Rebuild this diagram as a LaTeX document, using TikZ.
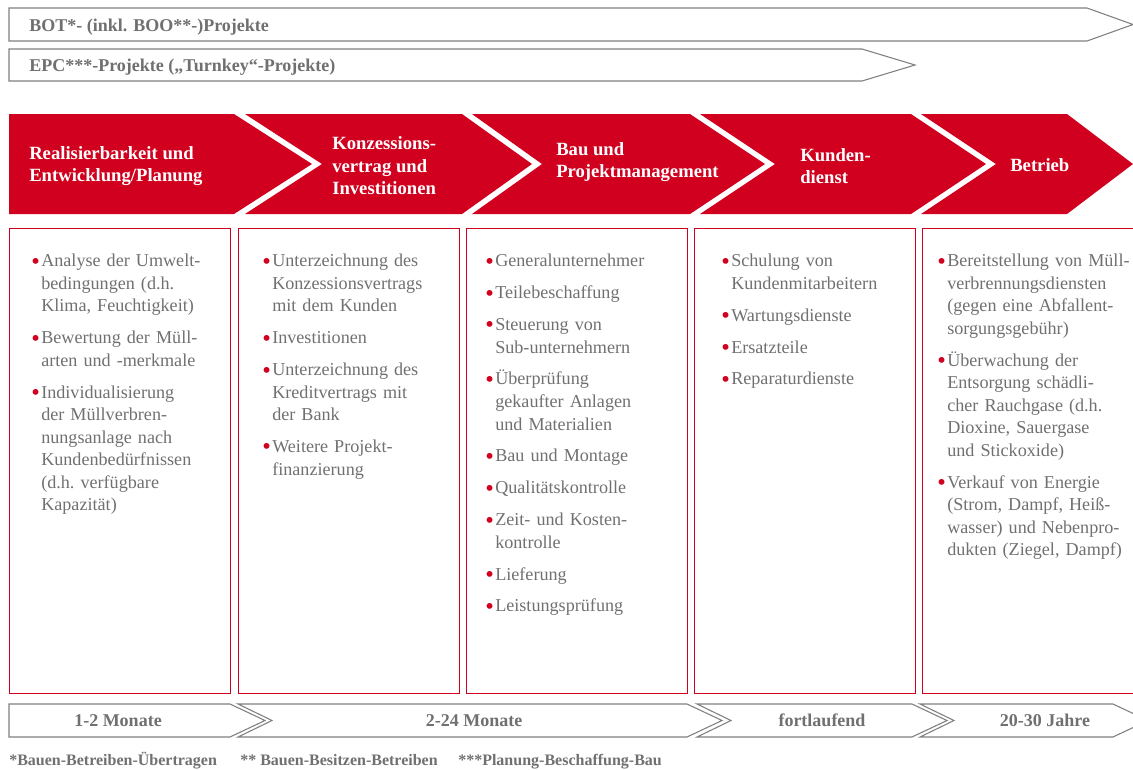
\documentclass[tikz,border=0pt]{standalone}
\usepackage{fontspec}
\setmainfont{Liberation Serif}
\definecolor{dbred}{RGB}{208,0,30}
\definecolor{txtgray}{RGB}{112,112,112}
\definecolor{linegray}{RGB}{128,128,128}
\newcommand\itm{\leavevmode\llap{\textcolor{dbred}{\raisebox{-1.8pt}{\scalebox{1.35}{\textbullet}}}\hspace{1pt}}}
\tikzset{
	graybar/.style={draw=linegray, line width=0.8pt, fill=white},
	bartext/.style={text=txtgray, font=\bfseries\fontsize{13.5}{16}\selectfont, inner sep=0},
	phasetext/.style={text=white, font=\bfseries\fontsize{14}{16.9}\selectfont, align=left, anchor=west, inner sep=0},
	listbox/.style={draw=dbred, line width=0.75pt},
	listtext/.style={text=txtgray, font=\fontsize{13.6}{16.9}\selectfont, text width=156pt, align=left, anchor=north west, inner sep=0},
	notetext/.style={text=txtgray, font=\bfseries\fontsize{12}{14}\selectfont, anchor=base west, inner sep=0}
}
\begin{document}
\begin{tikzpicture}[x=0.75pt, y=-0.75pt]
	\useasboundingbox (0,0) rectangle (1133,769);
	\draw[graybar] (9,8) -- (1087,8) -- (1133,24.5) -- (1087,41) -- (9,41) -- cycle;
	\draw[graybar] (9,49) -- (862,49) -- (915,65) -- (862,81) -- (9,81) -- cycle;
	\node[bartext, anchor=base west] (bot) at (29,31) {BOT*- (inkl. BOO**-)Projekte};
	\node[bartext, anchor=base west] (epc) at (29,71) {EPC***-Projekte („Turnkey“-Projekte)};
	\fill[dbred] (9,114) -- (234,114) -- (312,164) -- (234,214) -- (9,214) -- cycle;
	\fill[dbred] (245,114) -- (462,114) -- (532,164) -- (462,214) -- (245,214) -- (322,164) -- cycle;
	\fill[dbred] (472,114) -- (690,114) -- (765,164) -- (690,214) -- (472,214) -- (542,164) -- cycle;
	\fill[dbred] (700,114) -- (911,114) -- (986,164) -- (911,214) -- (700,214) -- (775,164) -- cycle;
	\fill[dbred] (921,114) -- (1067,114) -- (1133,164) -- (1067,214) -- (921,214) -- (996,164) -- cycle;
	\node[phasetext] (p1) at (29,166) {Realisierbarkeit und\\Entwicklung/Planung};
	\node[phasetext] (p2) at (332,166) {Konzessions-\\vertrag und\\Investitionen};
	\node[phasetext] (p3) at (556,162) {Bau und\\Projektmanagement};
	\node[phasetext] (p4) at (800,166) {Kunden-\\dienst};
	\node[phasetext] (p5) at (1010,165) {Betrieb};
	\foreach \x in {9,238,466,694,922} \draw[listbox] (\x,228) rectangle ++(221,465);
	\node[listtext] (l1) at (41,254) {\itm Analyse der Umwelt-\\bedingungen (d.h.\\Klima, Feuchtigkeit)\\[7pt]
		\itm Bewertung der Müll-\\arten und -merkmale\\[7pt]
		\itm Individualisierung\\der Müllverbren-\\nungsanlage nach\\Kundenbedürfnissen\\(d.h.\ verfügbare\\Kapazität)};
	\node[listtext] (l2) at (272,254) {\itm Unterzeichnung des\\Konzessionsvertrags\\mit dem Kunden\\[7pt]
		\itm Investitionen\\[7pt]
		\itm Unterzeichnung des\\Kreditvertrags mit\\der Bank\\[7pt]
		\itm Weitere Projekt-\\finanzierung};
	\node[listtext] (l3) at (495,254) {\itm Generalunternehmer\\[7pt]
		\itm Teilebeschaffung\\[7pt]
		\itm Steuerung von\\Sub-unternehmern\\[7pt]
		\itm Überprüfung\\gekaufter Anlagen\\und Materialien\\[7pt]
		\itm Bau und Montage\\[7pt]
		\itm Qualitätskontrolle\\[7pt]
		\itm Zeit- und Kosten-\\kontrolle\\[7pt]
		\itm Lieferung\\[7pt]
		\itm Leistungsprüfung};
	\node[listtext] (l4) at (731,254) {\itm Schulung von\\Kundenmitarbeitern\\[7pt]
		\itm Wartungsdienste\\[7pt]
		\itm Ersatzteile\\[7pt]
		\itm Reparaturdienste};
	\node[listtext] (l5) at (947,254) {\itm Bereitstellung von Müll-\\verbrennungsdiensten\\(gegen eine Abfallent-\\sorgungsgebühr)\\[7pt]
		\itm Überwachung der\\Entsorgung schädli-\\cher Rauchgase (d.h.\\Dioxine, Sauergase\\und Stickoxide)\\[7pt]
		\itm Verkauf von Energie\\(Strom, Dampf, Heiß-\\wasser) und Nebenpro-\\dukten (Ziegel, Dampf)};
	\draw[graybar] (9,704) -- (230,704) -- (265,720.5) -- (230,737) -- (9,737) -- cycle;
	\draw[graybar] (238,704) -- (687,704) -- (722,720.5) -- (687,737) -- (238,737) -- (272,720.5) -- cycle;
	\draw[graybar] (697,704) -- (912,704) -- (947,720.5) -- (912,737) -- (697,737) -- (731,720.5) -- cycle;
	\draw[graybar] (920,704) -- (1113,704) -- (1148,720.5) -- (1113,737) -- (920,737) -- (954,720.5) -- cycle;
	\node[bartext] (m1) at (118,720.5) {1-2 Monate};
	\node[bartext] (m2) at (474,720.5) {2-24 Monate};
	\node[bartext] (m3) at (822,720.5) {fortlaufend};
	\node[bartext] (m4) at (1045,720.5) {20-30 Jahre};
	\node[notetext] (n1) at (9,765) {*Bauen-Betreiben-Übertragen};
	\node[notetext] (n2) at (240,765) {** Bauen-Besitzen-Betreiben};
	\node[notetext] (n3) at (458,765) {***Planung-Beschaffung-Bau};
\end{tikzpicture}
\end{document}
